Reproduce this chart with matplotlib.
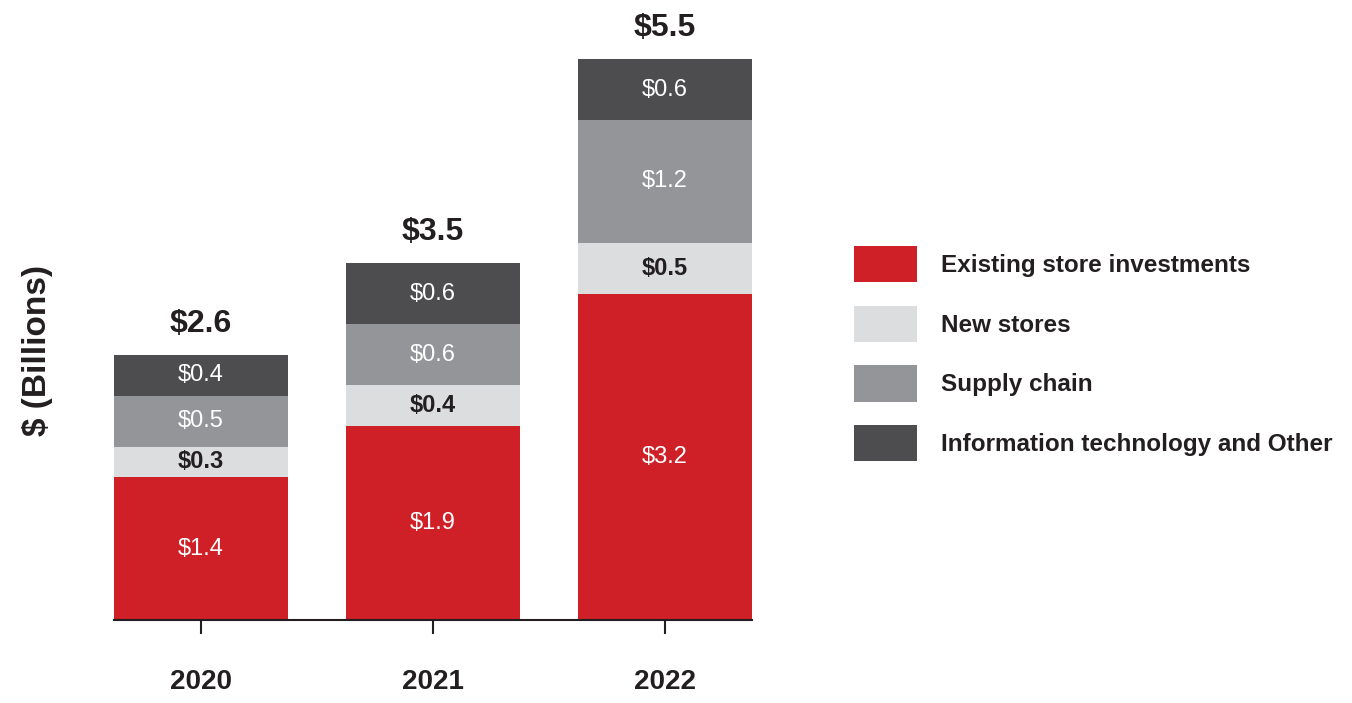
import numpy as np
import matplotlib
matplotlib.use("Agg")
import matplotlib.pyplot as plt

plt.rcParams['font.family'] = ['Liberation Sans', 'DejaVu Sans']

years = ["2020", "2021", "2022"]
existing = [1.4, 1.9, 3.2]
new_stores = [0.3, 0.4, 0.5]
supply = [0.5, 0.6, 1.2]
it_other = [0.4, 0.6, 0.6]
totals = [2.6, 3.5, 5.5]

series = [existing, new_stores, supply, it_other]
names = ["Existing store investments", "New stores", "Supply chain",
         "Information technology and Other"]
colors = ["#cf2027", "#dcdddf", "#939598", "#4d4d4f"]
txt_colors = ["white", "#231f20", "white", "white"]
txt_weights = ["normal", "bold", "normal", "normal"]
ink = "#231f20"

fig = plt.figure(figsize=(13.52, 7.03), dpi=100)
ax = fig.add_axes([114/1352, 83/703, 638/1352, 561/703])

x = np.arange(len(years))
bottom = np.zeros(len(years))
handles = []
for vals, c, tc, tw in zip(series, colors, txt_colors, txt_weights):
    vals = np.array(vals)
    b = ax.bar(x, vals, 0.75, bottom=bottom, color=c, edgecolor="none")
    handles.append(b)
    for xi, v, bt in zip(x, vals, bottom):
        ax.text(xi, bt + v / 2, "$%.1f" % v, ha="center", va="center",
                color=tc, fontsize=17, fontweight=tw)
    bottom += vals

for xi, t, top in zip(x, totals, bottom):
    ax.annotate("$%.1f" % t, (xi, top), xytext=(0, 16.5), textcoords="offset points",
                ha="center", va="baseline", fontsize=23, fontweight="bold", color=ink)

ax.set_xlim(-0.375, 2.375)
ax.set_ylim(0, 5.5)
for s in ["top", "right", "left"]:
    ax.spines[s].set_visible(False)
ax.spines["bottom"].set_color(ink)
ax.spines["bottom"].set_linewidth(1.5)
ax.set_yticks([])
ax.set_xticks(x)
ax.set_xticklabels(years, fontsize=20, fontweight="bold", color=ink)
ax.tick_params(axis="x", length=10, width=1.5, color=ink, pad=25)

fig.text(38/1352, 1 - 351/703, "$ (Billions)", rotation=90, ha="center", va="center",
         fontsize=24, fontweight="bold", color=ink)

fig.legend(handles, names, loc="upper left", bbox_to_anchor=(854/1352, 1 - 246/703),
           bbox_transform=fig.transFigure, frameon=False,
           prop={"weight": "bold", "size": 17.5}, labelcolor=ink,
           handlelength=2.6, handleheight=1.92, handletextpad=0.98,
           labelspacing=0.96, borderpad=0, borderaxespad=0)

fig.savefig("out.png", dpi=100)
